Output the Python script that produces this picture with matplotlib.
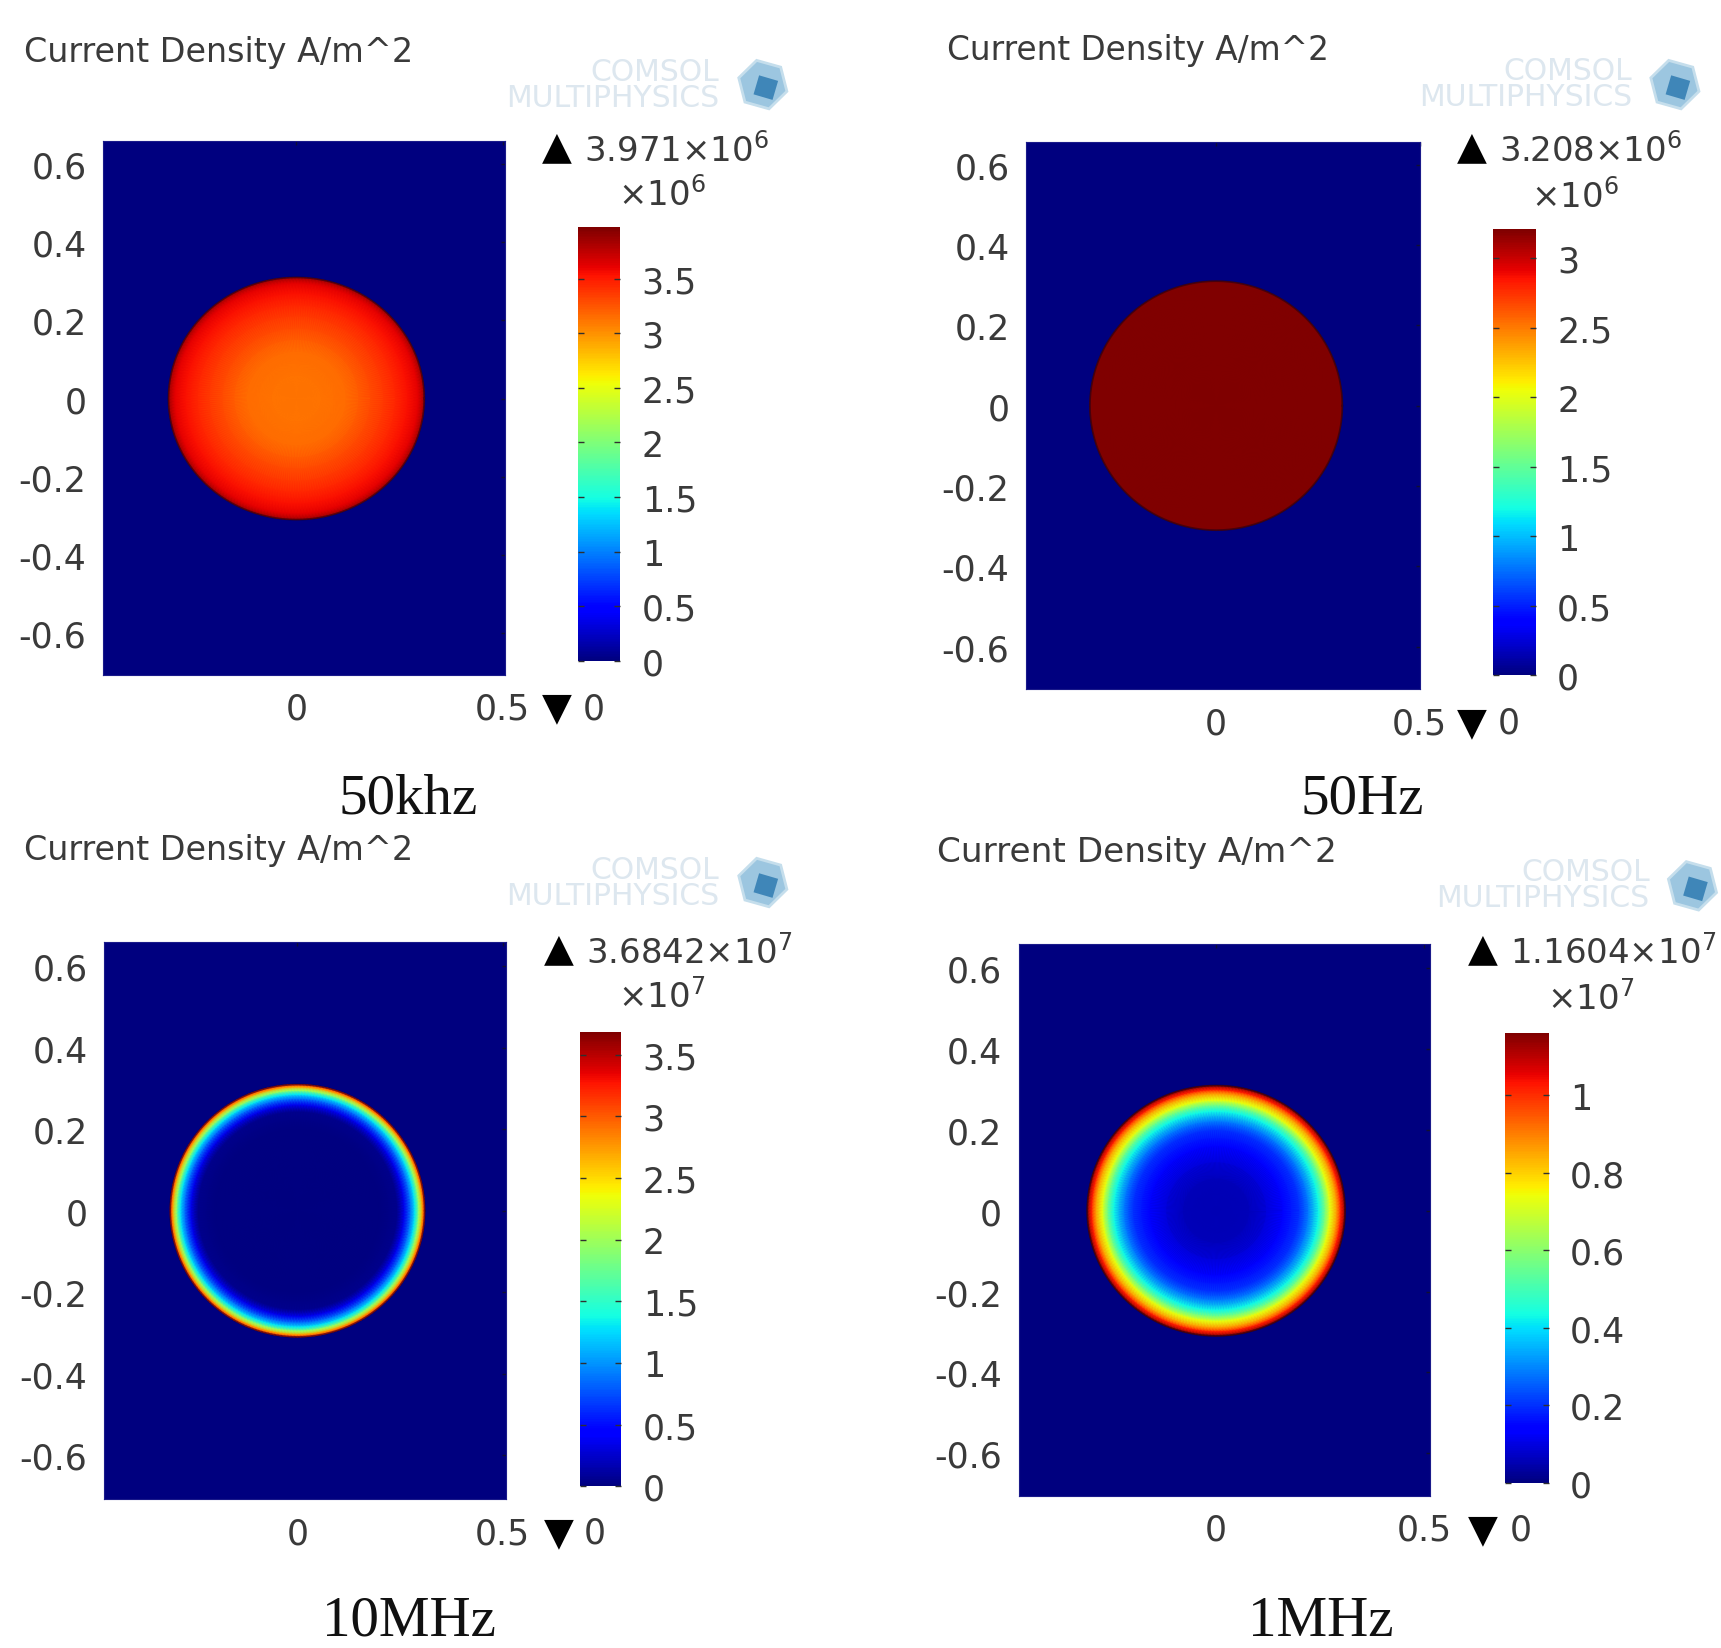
import numpy as np
import matplotlib
matplotlib.use('Agg')
import matplotlib.pyplot as plt
from matplotlib.cm import ScalarMappable
from matplotlib.colors import Normalize
from matplotlib.patches import RegularPolygon

W, H = 1721, 1649
S = W / 1568.0  # layout numbers below were measured on a 1568 wide view

plt.rcParams['font.family'] = 'DejaVu Sans'
plt.rcParams['mathtext.default'] = 'regular'

# Radial current density profiles (r in axis units)
radius_50khz = [0, 0.06, 0.12, 0.18, 0.24, 0.27, 0.295, 0.31]
density_50khz = [3.13, 3.13, 3.15, 3.3, 3.45, 3.55, 3.62, 3.85]

radius_50hz = [0, 0.10, 0.20, 0.31]
density_50hz = [3.208, 3.208, 3.208, 3.208]

radius_10mhz = [0, 0.20, 0.243, 0.26, 0.276, 0.286, 0.296, 0.304, 0.31]
density_10mhz = [0.0, 0.0, 0.05, 0.35, 0.9, 1.3, 2.0, 2.7, 3.3]

radius_1mhz = [0, 0.08, 0.16, 0.20, 0.222, 0.246, 0.262, 0.274, 0.29, 0.30, 0.31]
density_1mhz = [0.05, 0.06, 0.13, 0.2, 0.29, 0.43, 0.58, 0.73, 0.87, 1.02, 1.1604]

cbar_ticks_50khz = [0, 0.5, 1, 1.5, 2, 2.5, 3, 3.5]
cbar_ticks_50hz = [0, 0.5, 1, 1.5, 2, 2.5, 3]
cbar_ticks_10mhz = [0, 0.5, 1, 1.5, 2, 2.5, 3, 3.5]
cbar_ticks_1mhz = [0, 0.2, 0.4, 0.6, 0.8, 1]

y_ticks = [-0.6, -0.4, -0.2, 0, 0.2, 0.4, 0.6]
y_tick_labels = ['-0.6', '-0.4', '-0.2', '0', '0.2', '0.4', '0.6']
x_ticks = [0, 0.5]
x_tick_labels = ['0', '0.5']

title = 'Current Density A/m^2'
TEXT = '#3a3a3a'
FS = 25

fig = plt.figure(figsize=(W / 100, H / 100), dpi=100)


def put(x, y, s, **kw):
    kw.setdefault('color', TEXT)
    kw.setdefault('va', 'center')
    fig.text(x * S / W, 1 - y * S / H, s, **kw)


def box(x0, y0, x1, y1):
    return [x0 * S / W, 1 - y1 * S / H, (x1 - x0) * S / W, (y1 - y0) * S / H]


def watermark(right, y_mid, cx, cy):
    put(right, y_mid, 'COMSOL\nMULTIPHYSICS', ha='right', ma='right', fontsize=21.5,
        color='#dde7ef', linespacing=0.85)
    # little cube logo
    fig.patches.append(RegularPolygon((cx * S, H - cy * S), 6, radius=25, orientation=0.25,
                                      transform=None, facecolor='#9cc6e0',
                                      edgecolor='#c5deec', lw=2))
    fig.patches.append(RegularPolygon((cx * S + 3, H - cy * S - 3), 4, radius=14, orientation=0.5,
                                      transform=None, facecolor='#3f86b8',
                                      edgecolor='none'))


def panel(radius, density, vmax, cbar_ticks, frame, x0_px, x_scale, y0_px, y_scale, bar):
    x_a, y_a, x_b, y_b = frame
    ax = fig.add_axes(box(x_a, y_a, x_b, y_b))
    ax.set_facecolor('#00007f')
    ax.set_xlim((x_a - x0_px) / x_scale, (x_b - x0_px) / x_scale)
    ax.set_ylim((y0_px - y_b) / y_scale, (y0_px - y_a) / y_scale)

    theta = np.linspace(0, 2 * np.pi, 241)
    rr, tt = np.meshgrid(radius, theta)
    cc = np.meshgrid(density, theta)[0]
    norm = Normalize(0, vmax)
    ax.pcolormesh(rr * np.cos(tt), rr * np.sin(tt), cc, shading='gouraud',
                  cmap='jet', norm=norm)
    # soft dark rim where the disk meets the background
    ax.plot(radius[-1] * np.cos(theta), radius[-1] * np.sin(theta), color='#180018',
            lw=1.3, alpha=0.55)

    ax.set_xticks(x_ticks, x_tick_labels)
    ax.set_yticks(y_ticks, y_tick_labels)
    ax.tick_params(axis='both', direction='in', length=3, width=1, color='#101030',
                   labelsize=FS, labelcolor=TEXT, top=True, right=True,
                   bottom=False, left=False)
    ax.tick_params(axis='y', pad=12)
    ax.tick_params(axis='x', pad=12)
    for sp in ax.spines.values():
        sp.set_color('#1a1a8a')
        sp.set_linewidth(0.8)

    cax = fig.add_axes(box(*bar))
    cb = fig.colorbar(ScalarMappable(norm=norm, cmap='jet'), cax=cax, ticks=cbar_ticks)
    cb.ax.set_yticklabels([f'{t:g}' for t in cbar_ticks])
    cb.outline.set_visible(False)
    cb.ax.tick_params(direction='in', length=4, width=1, color='#303030', left=True,
                      right=True, labelsize=FS, labelcolor=TEXT, pad=15.5)


def extras(title_xy, title_fs, top_tri, top_label, exp_xy, exp_label, bot_tri, bot_xy, name, name_xy):
    put(*title_xy, title, ha='left', fontsize=title_fs)
    put(*top_tri, '\u25b2', ha='center', fontsize=28, color='black')
    put(top_tri[0] + 25, top_tri[1] + 3, top_label, ha='left', fontsize=24.5)
    put(*exp_xy, exp_label, ha='center', fontsize=24.5)
    put(*bot_tri, '\u25bc', ha='center', fontsize=28, color='black')
    put(*bot_xy, '0', ha='center', fontsize=FS)
    put(*name_xy, name, ha='center', fontsize=41, color='#111111', family='Liberation Serif')


panel(radius_50khz, density_50khz, 3.971, cbar_ticks_50khz,
      (94, 129, 460, 616), 270, 376, 364, 356, (527, 208, 565, 603))
extras((22, 48), 24, (507, 134), r'3.971$\times$10$^{6}$', (603, 177), r'$\times$10$^{6}$',
       (507, 645), (541, 646), '50khz', (372, 728))
watermark(655, 78, 695, 78)

panel(radius_50hz, density_50hz, 3.208, cbar_ticks_50hz,
      (935, 130, 1294, 629), 1108, 371, 370.5, 366, (1360, 210, 1399, 616))
extras((863, 46), 23.6, (1341, 134), r'3.208$\times$10$^{6}$', (1435, 179), r'$\times$10$^{6}$',
       (1341, 659), (1375, 659), '50Hz', (1241, 728))
watermark(1487, 77, 1526, 78)

panel(radius_10mhz, density_10mhz, 3.6842, cbar_ticks_10mhz,
      (95, 859, 461, 1367), 271, 374, 1104, 371, (528, 941, 566, 1355))
extras((22, 775), 24, (509, 865), r'3.6842$\times$10$^{7}$', (603, 908), r'$\times$10$^{7}$',
       (509, 1397), (542, 1397), '10MHz', (373, 1477.5))
watermark(655, 805, 695, 805)

panel(radius_1mhz, density_1mhz, 1.1604, cbar_ticks_1mhz,
      (928, 861, 1303, 1364), 1108, 379, 1104, 368, (1371, 942, 1411, 1352))
extras((854, 777), 24.7, (1351, 865), r'1.1604$\times$10$^{7}$', (1449, 910), r'$\times$10$^{7}$',
       (1351, 1394), (1386, 1394), '1MHz', (1203, 1477.5))
watermark(1503, 807, 1542, 808)

fig.savefig('out.png', dpi=100)
